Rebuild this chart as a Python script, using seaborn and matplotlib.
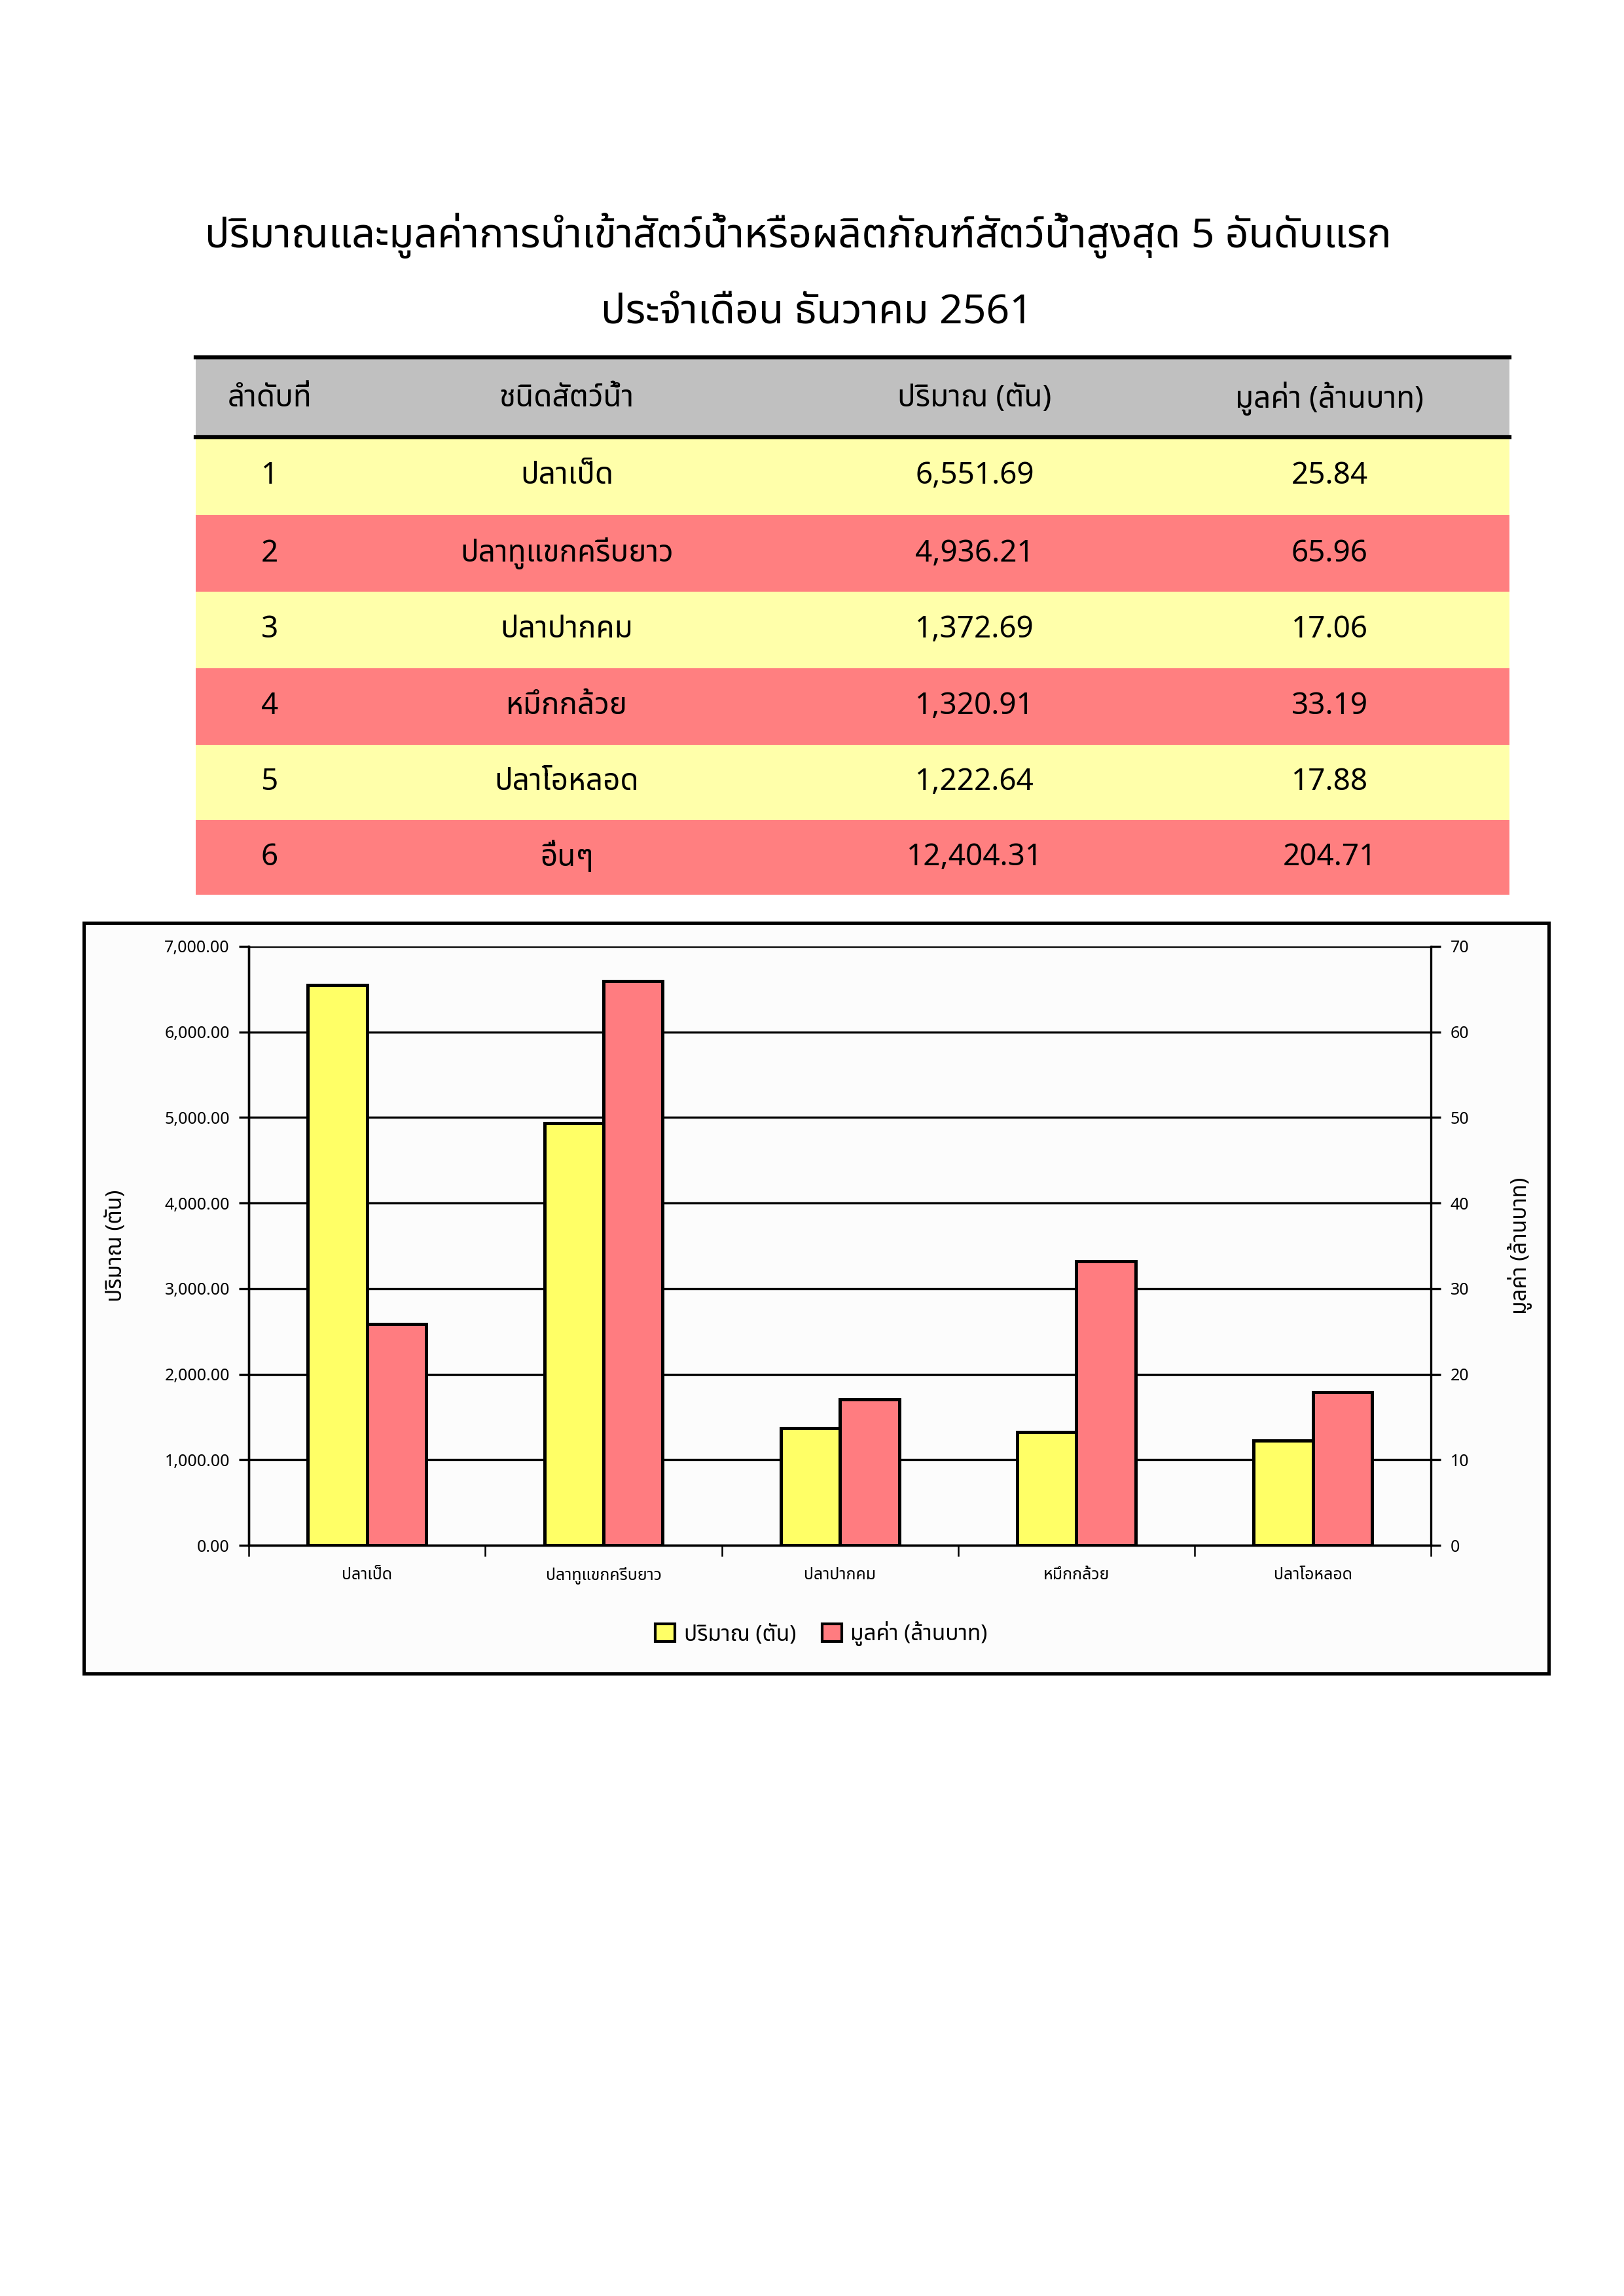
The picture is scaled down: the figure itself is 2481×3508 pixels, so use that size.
import matplotlib
matplotlib.use("Agg")
import matplotlib.pyplot as plt
import seaborn as sns
import pandas as pd
import numpy as np
from matplotlib.patches import Rectangle, Patch
from matplotlib import font_manager

fams = {f.name for f in font_manager.fontManager.ttflist}
cands = ["Noto Sans Thai", "Noto Sans Thai UI", "TH Sarabun New", "Garuda", "Loma", "Norasi", "Tlwg Typo", "Kinnari", "Noto Sans", "DejaVu Sans"]
FONT = [c for c in cands if c in fams] or ["DejaVu Sans"]
plt.rcParams["font.family"] = FONT

ranks = ["1", "2", "3", "4", "5", "6"]
species = ["ปลาเป็ด", "ปลาทูแขกครีบยาว", "ปลาปากคม", "หมึกกล้วย", "ปลาโอหลอด", "อื่นๆ"]
qty = [6551.69, 4936.21, 1372.69, 1320.91, 1222.64, 12404.31]
val = [25.84, 65.96, 17.06, 33.19, 17.88, 204.71]
headers = ["ลำดับที่", "ชนิดสัตว์น้ำ", "ปริมาณ (ตัน)", "มูลค่า (ล้านบาท)"]
s_qty = "ปริมาณ (ตัน)"
s_val = "มูลค่า (ล้านบาท)"

W, H = 2481, 3508
fig = plt.figure(figsize=(W / 300, H / 300), dpi=300)
fig.patch.set_facecolor("white")
PW, PH = 1103, 1560
def fx(x): return x / PW
def fy(y): return 1 - y / PH

fig.text(fx(542), fy(160), "ปริมาณและมูลค่าการนำเข้าสัตว์น้ำหรือผลิตภัณฑ์สัตว์น้ำสูงสุด 5 อันดับแรก",
         ha="center", va="center", fontsize=15, fontweight="bold")
fig.text(fx(555), fy(213), "ประจำเดือน ธันวาคม 2561", ha="center", va="center", fontsize=15, fontweight="bold")

tx0, tx1 = 133, 1025
ty = [243, 297, 350, 402, 454, 506, 557, 608]
cx = [183, 385, 662, 903]
fig.patches.append(Rectangle((fx(tx0), fy(ty[1])), fx(tx1 - tx0), (ty[1] - ty[0]) / PH,
                             transform=fig.transFigure, facecolor="#C0C0C0", edgecolor="none"))
for i, h in enumerate(headers):
    fig.text(fx(cx[i]), fy(271), h, ha="center", va="center", fontsize=11, fontweight="bold")
for r in range(6):
    col = "#FFFFAA" if r % 2 == 0 else "#FF7F80"
    fig.patches.append(Rectangle((fx(tx0), fy(ty[r + 2])), fx(tx1 - tx0), (ty[r + 2] - ty[r + 1]) / PH,
                                 transform=fig.transFigure, facecolor=col, edgecolor="none"))
    yc = (ty[r + 1] + ty[r + 2]) / 2
    cells = [ranks[r], species[r], f"{qty[r]:,.2f}", f"{val[r]:,.2f}"]
    for i, c in enumerate(cells):
        fig.text(fx(cx[i]), fy(yc), c, ha="center", va="center", fontsize=11)
for yy in (243, 297):
    fig.add_artist(plt.Line2D([fx(tx0), fx(tx1)], [fy(yy), fy(yy)], transform=fig.transFigure, color="black", lw=1.5))

frame = Rectangle((fx(57), fy(1137)), fx(1052 - 57), (1137 - 627) / PH,
                  transform=fig.transFigure, facecolor="#FCFCFC", edgecolor="black", lw=1.2, zorder=-5)
fig.patches.append(frame)

ax = fig.add_axes([fx(169), fy(1050), fx(972 - 169), (1050 - 643) / PH])
ax.set_zorder(2)
ax.set_facecolor("#FCFCFC")
cats = species[:5]
df = pd.DataFrame({
    "cat": cats * 2,
    "series": [s_qty] * 5 + [s_val] * 5,
    "q": qty[:5] + [np.nan] * 5,
    "v": [np.nan] * 5 + val[:5],
})
pal = {s_qty: "#FFFF66", s_val: "#FF7C80"}
sns.barplot(data=df, x="cat", y="q", hue="series", palette=pal, ax=ax, width=0.5,
            edgecolor="black", linewidth=1.2, saturation=1, legend=False, zorder=3)
ax2 = ax.twinx()
ax2.set_zorder(3)
sns.barplot(data=df, x="cat", y="v", hue="series", palette=pal, ax=ax2, width=0.5,
            edgecolor="black", linewidth=1.2, saturation=1, legend=False, zorder=3)
ax.set_ylim(0, 7000)
ax2.set_ylim(0, 70)
ax.set_yticks(np.arange(0, 7001, 1000))
ax.set_yticklabels([f"{v:,.2f}" for v in np.arange(0, 7001, 1000)], fontsize=6)
ax2.set_yticks(np.arange(0, 71, 10))
ax2.tick_params(axis="y", labelsize=6)
ax.set_xlim(-0.5, 4.5)
ax.set_xticks(np.arange(-0.5, 5, 1), minor=True)
ax.tick_params(axis="x", which="major", length=0, labelsize=6, pad=8)
ax.tick_params(axis="x", which="minor", length=4)
ax.grid(axis="y", color="black", lw=0.8, zorder=0)
ax.set_axisbelow(True)
ax.set_xlabel("")
ax.set_ylabel(s_qty, fontsize=8, labelpad=14)
ax2.set_ylabel(s_val, fontsize=8, labelpad=14, rotation=90)
for a in (ax, ax2):
    a.spines["top"].set_visible(False)
ax.spines["right"].set_visible(False)
ax2.patch.set_visible(False)

handles = [Patch(facecolor=pal[s_qty], edgecolor="black"), Patch(facecolor=pal[s_val], edgecolor="black")]
fig.legend(handles, [s_qty, s_val], loc="center", bbox_to_anchor=(fx(558), fy(1110)), ncol=2,
           frameon=False, fontsize=8, handlelength=0.9, handleheight=0.9, columnspacing=1.2, handletextpad=0.4)

fig.savefig("out.png", dpi=300, facecolor="white")
